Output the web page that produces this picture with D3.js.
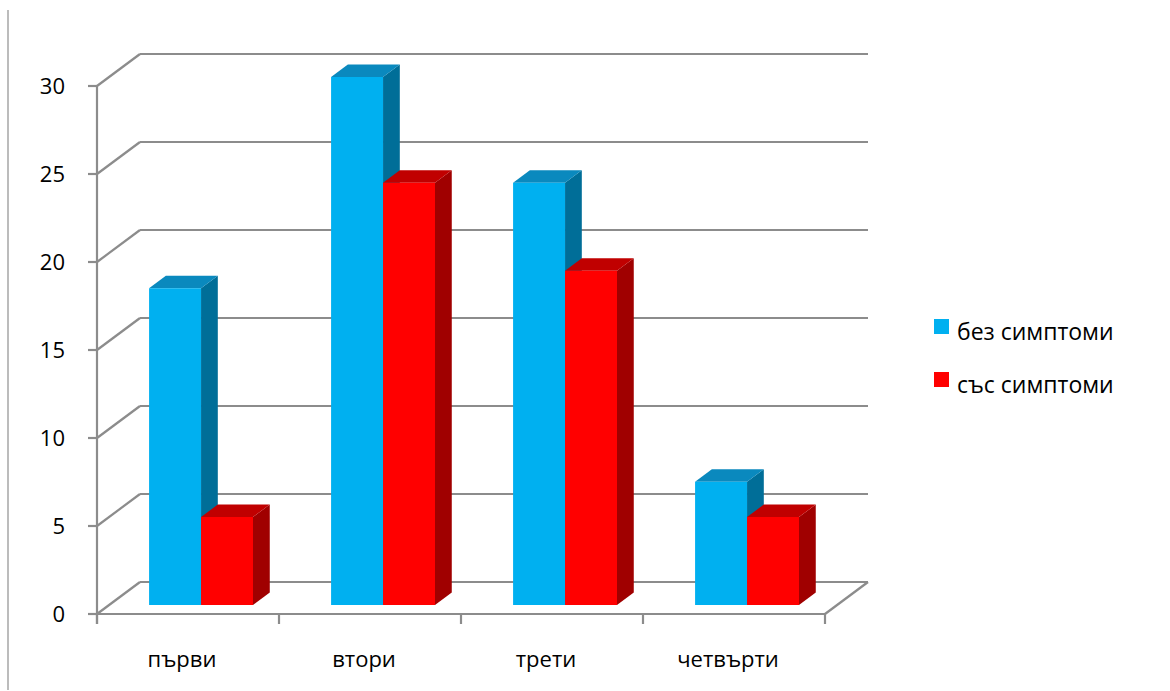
<!DOCTYPE html>
<html>
<head>
<meta charset="utf-8">
<script src="https://cdn.jsdelivr.net/npm/d3@7"></script>
<style>
  html, body { margin: 0; padding: 0; background: #fff; }
  svg { display: block; font-family: "Open Sans", "Noto Sans", sans-serif; }
</style>
</head>
<body>
<svg id="chart" width="1170" height="691"></svg>
<script>
// Chart data
const categories = ["първи", "втори", "трети", "четвърти"];
const seriesNames = ["без симптоми", "със симптоми"];
const withoutSymptoms = [18, 30, 24, 7];
const withSymptoms = [5, 24, 19, 5];
const yTicks = [0, 5, 10, 15, 20, 25, 30];

const seriesValues = [withoutSymptoms, withSymptoms];
const palette = [
  { front: "#00B0F0", top: "#0A89BE", side: "#006E98" },
  { front: "#FF0000", top: "#C00000", side: "#A00000" }
];

const svg = d3.select("#chart");

// Plot box: front plane plus a receding depth offset for the 3D walls
const depthX = 43, depthY = 32;
const x0 = d3.scaleBand().domain(categories).range([97, 825]).paddingInner(0).paddingOuter(0);
const y = d3.scaleLinear().domain([0, 30]).range([614, 86]);
const bw = x0.bandwidth();
const x1 = d3.scaleBand().domain(seriesNames).range([bw * 0.22, bw * 0.22 + bw * 0.571]);

// Project (screen x on front plane, value, depth 0..1) into 2D
const proj = (sx, v, d) => [sx + d * depthX, y(v) - d * depthY];

const gridColor = "#8C8C8C";
const grid = svg.append("g").attr("stroke", gridColor).attr("stroke-width", 2.2).attr("fill", "none");

// Frame line on the left
svg.append("line").attr("x1", 8).attr("x2", 8).attr("y1", 10).attr("y2", 690)
  .attr("stroke", "#A6A6A6").attr("stroke-width", 1.5);

// Back wall gridlines and side wall diagonals
const xLeft = x0.range()[0], xRight = x0.range()[1];
yTicks.forEach(t => {
  const [bx0, by] = proj(xLeft, t, 1);
  const [bx1] = proj(xRight, t, 1);
  grid.append("line").attr("x1", bx0).attr("x2", bx1).attr("y1", by).attr("y2", by);
  grid.append("line").attr("x1", xLeft).attr("y1", y(t)).attr("x2", bx0).attr("y2", by);
  // tick mark on the value axis
  grid.append("line").attr("x1", xLeft - 9).attr("x2", xLeft).attr("y1", y(t)).attr("y2", y(t));
});

// Value axis line
grid.append("line").attr("x1", xLeft).attr("x2", xLeft).attr("y1", y(30)).attr("y2", y(0) + 10);

// Floor: front edge and right diagonal
grid.append("line").attr("x1", xLeft - 9).attr("x2", xRight).attr("y1", y(0)).attr("y2", y(0));
{
  const [rx, ry] = proj(xRight, 0, 1);
  grid.append("line").attr("x1", xRight).attr("y1", y(0)).attr("x2", rx).attr("y2", ry);
}
// Category tick marks
const boundaries = categories.map(c => x0(c)).concat([xRight]);
boundaries.forEach(bx => {
  grid.append("line").attr("x1", bx).attr("x2", bx).attr("y1", y(0)).attr("y2", y(0) + 10);
});

// Value axis labels
svg.append("g").selectAll("text").data(yTicks).join("text")
  .attr("x", 65).attr("y", d => y(d)).attr("dy", "0.35em")
  .attr("text-anchor", "end").attr("font-size", 22).attr("fill", "#000")
  .text(d => d);

// Category labels
svg.append("g").selectAll("text").data(categories).join("text")
  .attr("x", d => x0(d) + bw / 2 - 6).attr("y", 667)
  .attr("text-anchor", "middle").attr("font-size", 22).attr("fill", "#000")
  .text(d => d);

// 3D bars: front face at depth d0, back at d1
const d0 = 0.28, d1 = 0.67;
const bars = svg.append("g");
const poly = pts => pts.map(p => p.join(",")).join(" ");
categories.forEach((cat, ci) => {
  seriesNames.forEach((s, si) => {
    const v = seriesValues[si][ci];
    const xa = x0(cat) + x1(s), xb = xa + x1.bandwidth();
    const c = palette[si];
    const fBL = proj(xa, 0, d0), fBR = proj(xb, 0, d0), fTL = proj(xa, v, d0), fTR = proj(xb, v, d0);
    const bBR = proj(xb, 0, d1), bTL = proj(xa, v, d1), bTR = proj(xb, v, d1);
    bars.append("polygon").attr("points", poly([fBR, fTR, bTR, bBR])).attr("fill", c.side);
    bars.append("polygon").attr("points", poly([fTL, fTR, bTR, bTL])).attr("fill", c.top);
    bars.append("polygon").attr("points", poly([fBL, fBR, fTR, fTL])).attr("fill", c.front);
  });
});

// Legend
const legend = svg.append("g");
seriesNames.forEach((s, i) => {
  const ly = 319 + i * 53;
  legend.append("rect").attr("x", 934).attr("y", ly).attr("width", 15).attr("height", 15)
    .attr("fill", palette[i].front);
  legend.append("text").attr("x", 957).attr("y", ly + 21)
    .attr("font-size", 23).attr("fill", "#000").text(s);
});
</script>
</body>
</html>
